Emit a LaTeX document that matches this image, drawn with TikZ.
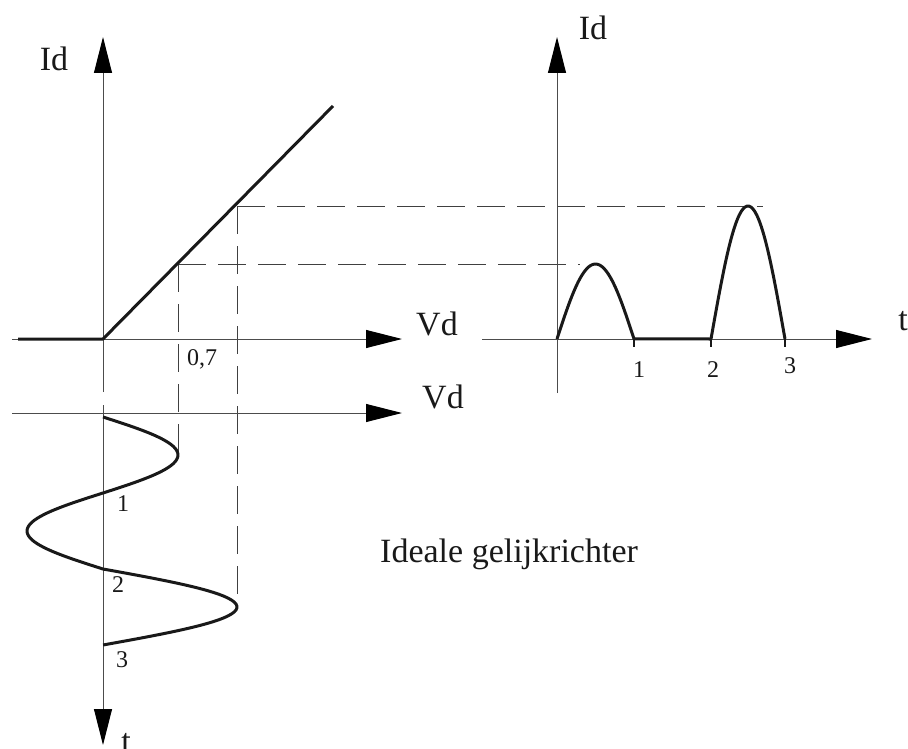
\documentclass[tikz,border=0pt]{standalone}
\usepackage{fontspec}
\setmainfont{Liberation Serif}
\usetikzlibrary{arrows.meta}
\begin{document}
\begin{tikzpicture}[x=1pt,y=-1pt,
  axisline/.style={line width=1pt, draw=black!70},
  axisarrow/.style={axisline, -{Triangle[length=36pt,width=18pt,color=black]}},
  thickcurve/.style={line width=3pt, draw=black!90, line join=round},
  tickmark/.style={line width=2pt, draw=black!90},
  dashline/.style={line width=1pt, draw=black!75, dash pattern=on 28pt off 12pt},
  biglabel/.style={font=\fontsize{34}{40}\selectfont, inner sep=0pt, anchor=base, text=black!90},
  smalllabel/.style={font=\fontsize{24}{28}\selectfont, inner sep=0pt, anchor=base, text=black!90}]
\useasboundingbox (0,0) rectangle (908,749);
% coordinates
\coordinate (o1) at (103,339);
\coordinate (idtop) at (103,37);
\coordinate (idbot) at (103,392);
\coordinate (vdL) at (12,339);
\coordinate (vdR) at (402,339);
\coordinate (vd2L) at (12,413);
\coordinate (vd2R) at (402,413);
\coordinate (ttop) at (103,405);
\coordinate (tbot) at (103,745);
\coordinate (kneeL) at (18,339);
\coordinate (lineEnd) at (333,106);
\coordinate (p1) at (178,264);
\coordinate (p2) at (237,206);
\coordinate (p1low) at (178,455);
\coordinate (p2low) at (237,605);
\coordinate (h1) at (580,264);
\coordinate (h2) at (763,206);
\coordinate (o2) at (557,339);
\coordinate (id2top) at (557,37);
\coordinate (id2bot) at (557,393);
\coordinate (t2L) at (482,339);
\coordinate (t2R) at (872,339);
\coordinate (k1) at (634,339);
\coordinate (k2) at (711,339);
\coordinate (k3) at (785,339);
% dashed projection lines
\draw[dashline] (p1) -- (h1);
\draw[dashline] (p2) -- (h2);
\draw[dashline] (p1) -- (p1low);
\draw[dashline] (p2) -- (p2low);
% left characteristic axes
\draw[axisarrow] (idbot) -- (idtop);
\draw[axisarrow] (vdL) -- (vdR);
\draw[axisarrow] (vd2L) -- (vd2R);
\draw[axisarrow] (ttop) -- (tbot);
% characteristic
\draw[thickcurve] (kneeL) -- (o1) -- (lineEnd);
% sine input
\draw[thickcurve]
  plot[domain=0:2, samples=40, smooth] ({103+75*sin(90*\x)}, {417+38*\x})
  -- plot[domain=2:4, samples=40, smooth] ({103+76*sin(90*\x)}, {417+38*\x})
  -- plot[domain=4:6, samples=40, smooth] ({103+134*sin(90*\x)}, {417+38*\x});
% right graph axes
\draw[axisarrow] (id2bot) -- (id2top);
\draw[axisarrow] (t2L) -- (t2R);
% output current
\draw[thickcurve] plot[domain=0:1, samples=40, smooth] ({557+77*\x}, {339-75*sin(180*\x)}) -- (k2)
  -- plot[domain=0:1, samples=40, smooth] ({711+74*\x}, {339-133*sin(180*\x)});
\draw[tickmark] (k1) -- ++(0,8);
\draw[tickmark] (k2) -- ++(0,8);
\draw[tickmark] (k3) -- ++(0,8);
% labels
\node[biglabel] (lId) at (54,71) {Id};
\node[biglabel] (lVd) at (437,335) {Vd};
\node[biglabel] (lVd2) at (443,408) {Vd};
\node[biglabel] (lt) at (126,752) {t};
\node[biglabel] (rId) at (593,40) {Id};
\node[biglabel] (rt) at (903,330) {t};
\node[smalllabel] (l07) at (202,365) {0,7};
\node[smalllabel] (ln1) at (123,511) {1};
\node[smalllabel] (ln2) at (118,592) {2};
\node[smalllabel] (ln3) at (122,667) {3};
\node[smalllabel] (rn1) at (639,377) {1};
\node[smalllabel] (rn2) at (713,377) {2};
\node[smalllabel] (rn3) at (790,373) {3};
\node[biglabel, anchor=base west] (title) at (380,562) {Ideale gelijkrichter};
\end{tikzpicture}
\end{document}
